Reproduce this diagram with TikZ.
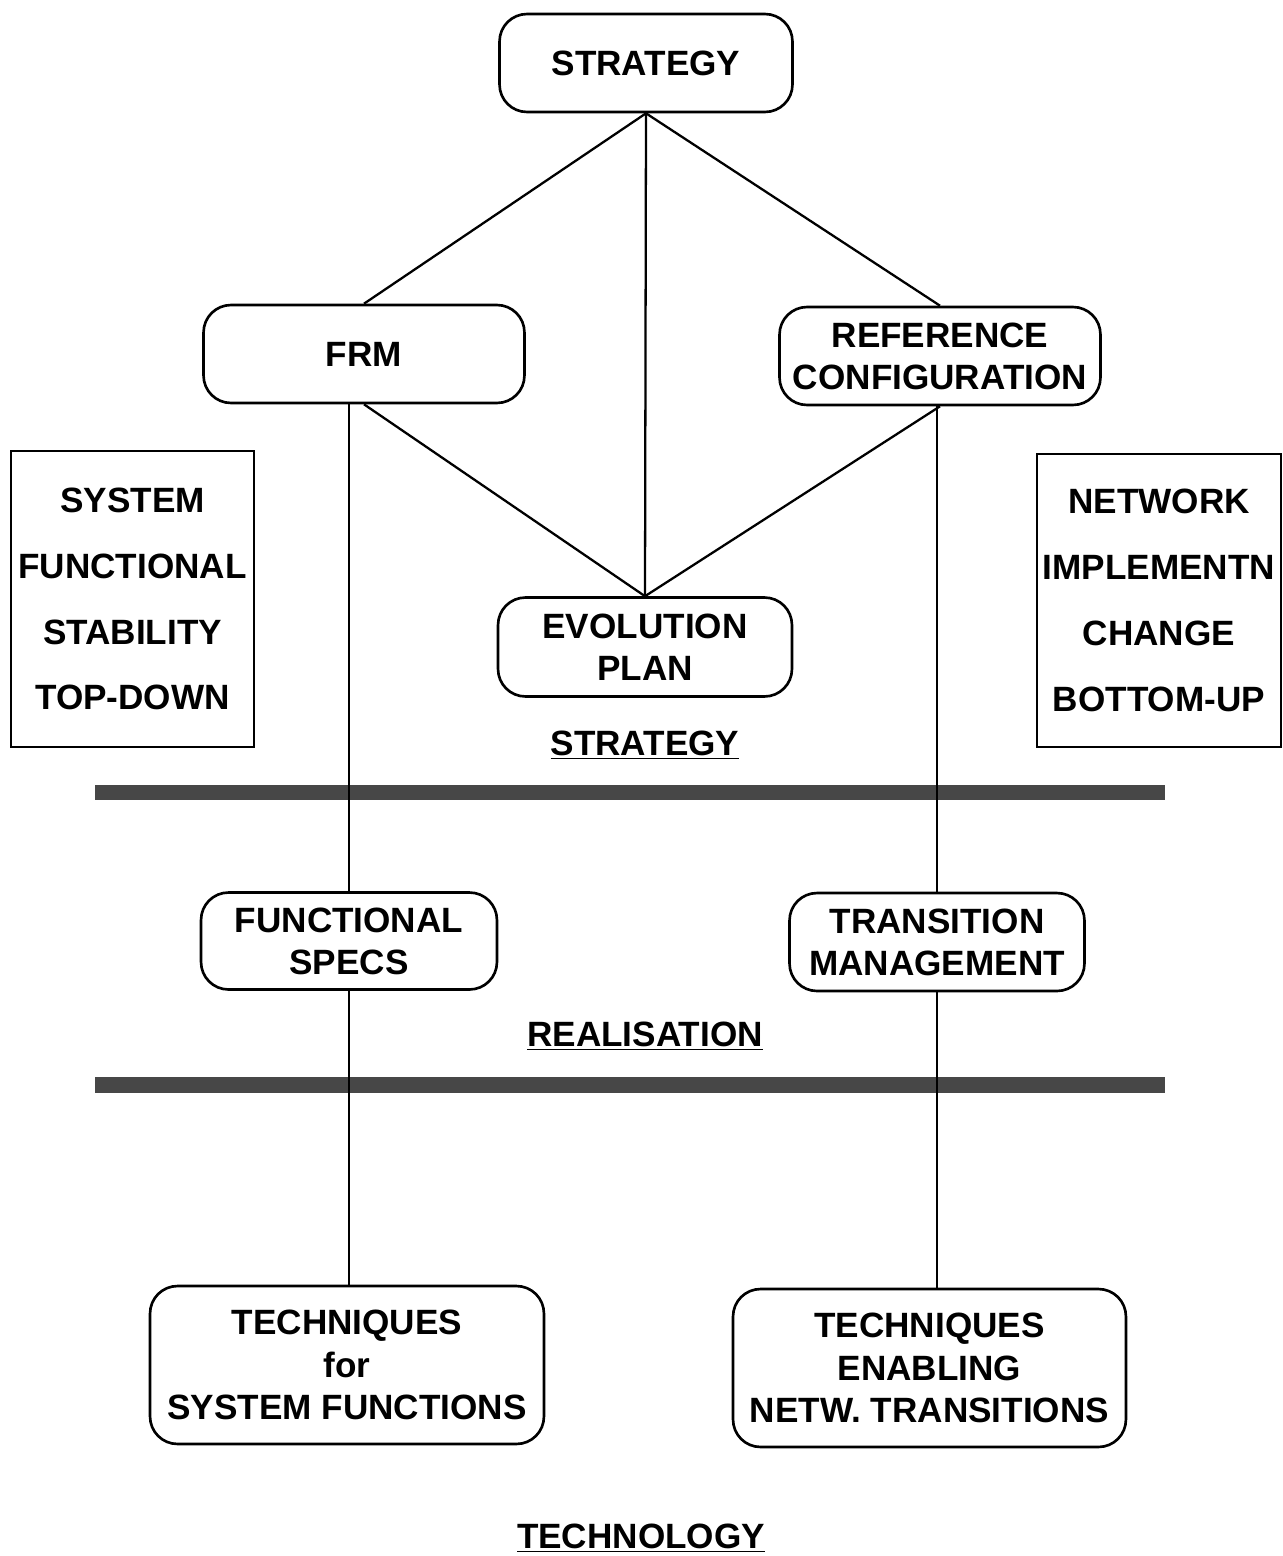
\documentclass[tikz,border=0pt]{standalone}
\usepackage{fontspec}
\setmainfont{Liberation Sans}
\begin{document}
\begin{tikzpicture}[x=0.02cm,y=-0.02cm,
  font=\fontsize{20}{24}\selectfont\bfseries,
  rbox/.style={draw,line width=1.5pt,rounded corners=0.55cm,align=center,inner sep=0pt},
  sbox/.style={draw,line width=1.5pt,align=center,inner sep=0pt,font=\fontsize{20}{37.5}\selectfont\bfseries},
  link/.style={line width=1.3pt},
  bar/.style={fill=black!72},
  lbl/.style={inner sep=0pt}]
\useasboundingbox (0,0) rectangle (1283,1556);
% strategy level
\node[rbox,minimum width=5.86cm,minimum height=1.96cm] (strat) at (646,63) {STRATEGY};
\node[rbox,minimum width=6.42cm,minimum height=1.96cm] (frm) at (364,354) {FRM};
\node[rbox,minimum width=6.42cm,minimum height=1.96cm] (ref) at (940,356) {REFERENCE\\CONFIGURATION};
\node[rbox,minimum width=5.88cm,minimum height=1.98cm] (evo) at (645,647) {EVOLUTION\\PLAN};
\node[sbox,minimum width=4.86cm,minimum height=5.92cm] (sys) at (132.5,599) {SYSTEM\\FUNCTIONAL\\STABILITY\\TOP-DOWN};
\node[sbox,minimum width=4.88cm,minimum height=5.86cm] (net) at (1159,600.5) {NETWORK\\IMPLEMENTN\\CHANGE\\BOTTOM-UP};
\node[lbl] (lstrat) at (645,745) {\underline{STRATEGY}};
% bars
\path[bar] (95,785) rectangle (1165,800);
\path[bar] (95,1077) rectangle (1165,1093);
% realisation level
\node[rbox,minimum width=5.92cm,minimum height=1.94cm] (fs) at (349,941) {FUNCTIONAL\\SPECS};
\node[rbox,minimum width=5.90cm,minimum height=1.96cm] (tm) at (937,942) {TRANSITION\\MANAGEMENT};
\node[lbl] (lreal) at (645,1036) {\underline{REALISATION}};
% technology level
\node[rbox,minimum width=7.88cm,minimum height=3.16cm] (t1) at (347,1365) {TECHNIQUES\\for\\SYSTEM FUNCTIONS};
\node[rbox,minimum width=7.86cm,minimum height=3.16cm] (t2) at (929.5,1368) {TECHNIQUES\\ENABLING\\NETW. TRANSITIONS};
\node[lbl] (ltech) at (641,1538) {\underline{TECHNOLOGY}};
% connectors
\draw[link] (strat.south) -- (frm.north);
\draw[link] (strat.south) -- (ref.north);
\draw[link] (strat.south) -- (evo.north);
\draw[link] (frm.south) -- (evo.north);
\draw[link] (ref.south) -- (evo.north);
\draw[link] (fs.north |- frm.south) -- (fs.north);
\draw[link] (tm.north |- ref.south) -- (tm.north);
\draw[link] (fs.south) -- (fs.south |- t1.north);
\draw[link] (tm.south) -- (tm.south |- t2.north);
\end{tikzpicture}
\end{document}
